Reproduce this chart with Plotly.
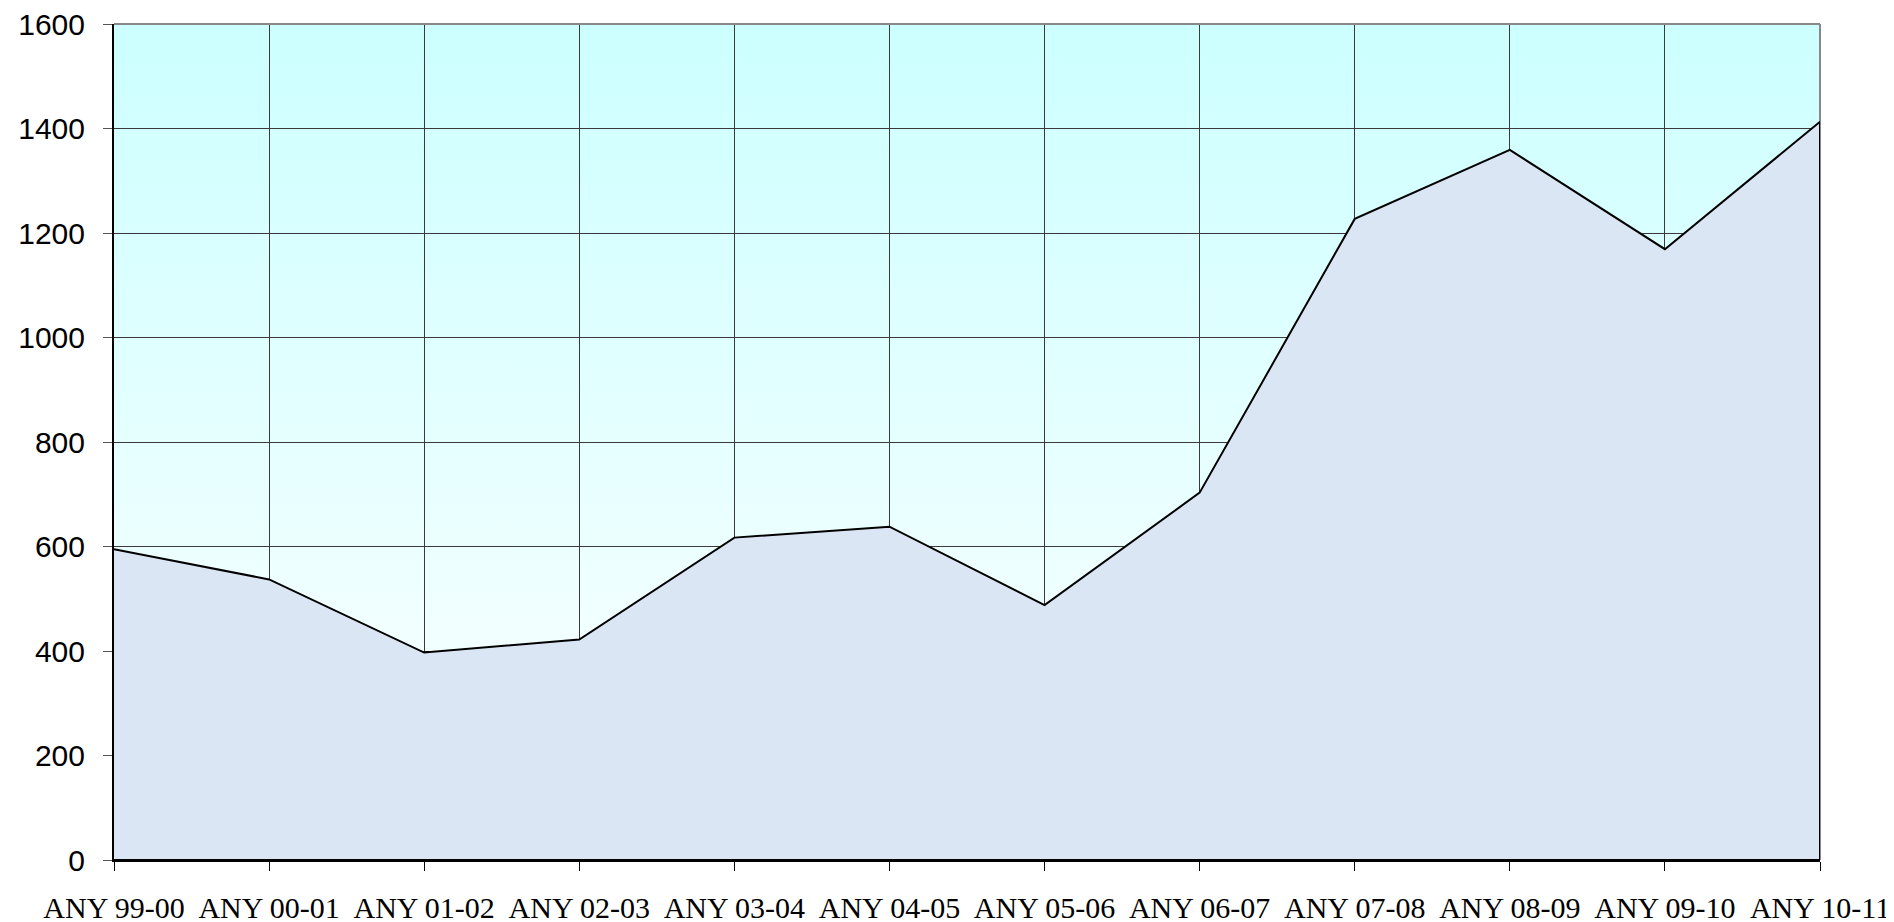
import base64
import plotly.graph_objects as go

seasons = ["ANY 99-00", "ANY 00-01", "ANY 01-02", "ANY 02-03", "ANY 03-04", "ANY 04-05",
           "ANY 05-06", "ANY 06-07", "ANY 07-08", "ANY 08-09", "ANY 09-10", "ANY 10-11"]
values = [595, 537, 397, 422, 617, 638, 488, 703, 1227, 1359, 1169, 1413]
y_ticks = [0, 200, 400, 600, 800, 1000, 1200, 1400, 1600]

Y_MAX = y_ticks[-1]
xs = list(range(len(seasons)))

# vertical gradient for the plot background (cyan at top -> white at bottom)
svg = ('<svg xmlns="http://www.w3.org/2000/svg" width="100" height="100" viewBox="0 0 100 100" '
       'preserveAspectRatio="none"><defs><linearGradient id="g" x1="0" y1="0" x2="0" y2="1">'
       '<stop offset="0" stop-color="#ccffff"/><stop offset="1" stop-color="#ffffff"/>'
       '</linearGradient></defs><rect width="100" height="100" fill="url(#g)"/></svg>')
bg_src = "data:image/svg+xml;base64," + base64.b64encode(svg.encode()).decode()

fig = go.Figure()

# the area, closed polygon so the right edge gets the black border too
fig.add_scatter(x=xs + [xs[-1], xs[0]], y=values + [0, 0], mode="lines", fill="toself",
                fillcolor="#dbe6f4", line=dict(color="black", width=2),
                hoverinfo="skip", showlegend=False)

fig.add_layout_image(source=bg_src, xref="paper", yref="paper", x=0, y=1, sizex=1, sizey=1,
                     sizing="stretch", xanchor="left", yanchor="top", layer="below")

fig.update_xaxes(range=[xs[0], xs[-1]], tickvals=xs, ticktext=seasons,
                 showgrid=True, gridcolor="#3a3a3a", gridwidth=1,
                 showline=True, linecolor="black", linewidth=2,
                 ticks="outside", ticklen=9, tickcolor="black", tickwidth=1,
                 ticklabelstandoff=11, automargin=False, ticklabeloverflow="allow",
                 tickfont=dict(family="Liberation Serif", size=30, color="black"),
                 zeroline=False)
fig.update_yaxes(range=[0, Y_MAX], tickvals=y_ticks,
                 showgrid=True, gridcolor="#3a3a3a", gridwidth=1,
                 showline=True, linecolor="black", linewidth=2,
                 ticks="outside", ticklen=9, tickcolor="#555555", tickwidth=1,
                 ticklabelstandoff=12, automargin=False, ticklabeloverflow="allow",
                 tickfont=dict(family="Liberation Sans", size=30, color="black"),
                 zeroline=False)

# grey frame on the top and right of the plot area
fig.add_shape(type="line", xref="paper", yref="paper", x0=0, x1=1, y0=1, y1=1,
              line=dict(color="#888888", width=2))
fig.add_shape(type="line", xref="paper", yref="paper", x0=1, x1=1, y0=0, y1=1,
              line=dict(color="#888888", width=2), layer="below")

fig.update_layout(width=1894, height=922, plot_bgcolor="rgba(0,0,0,0)", paper_bgcolor="white",
                  margin=dict(l=106, r=82, t=16, b=70), showlegend=False)

fig.write_html("out.html")
